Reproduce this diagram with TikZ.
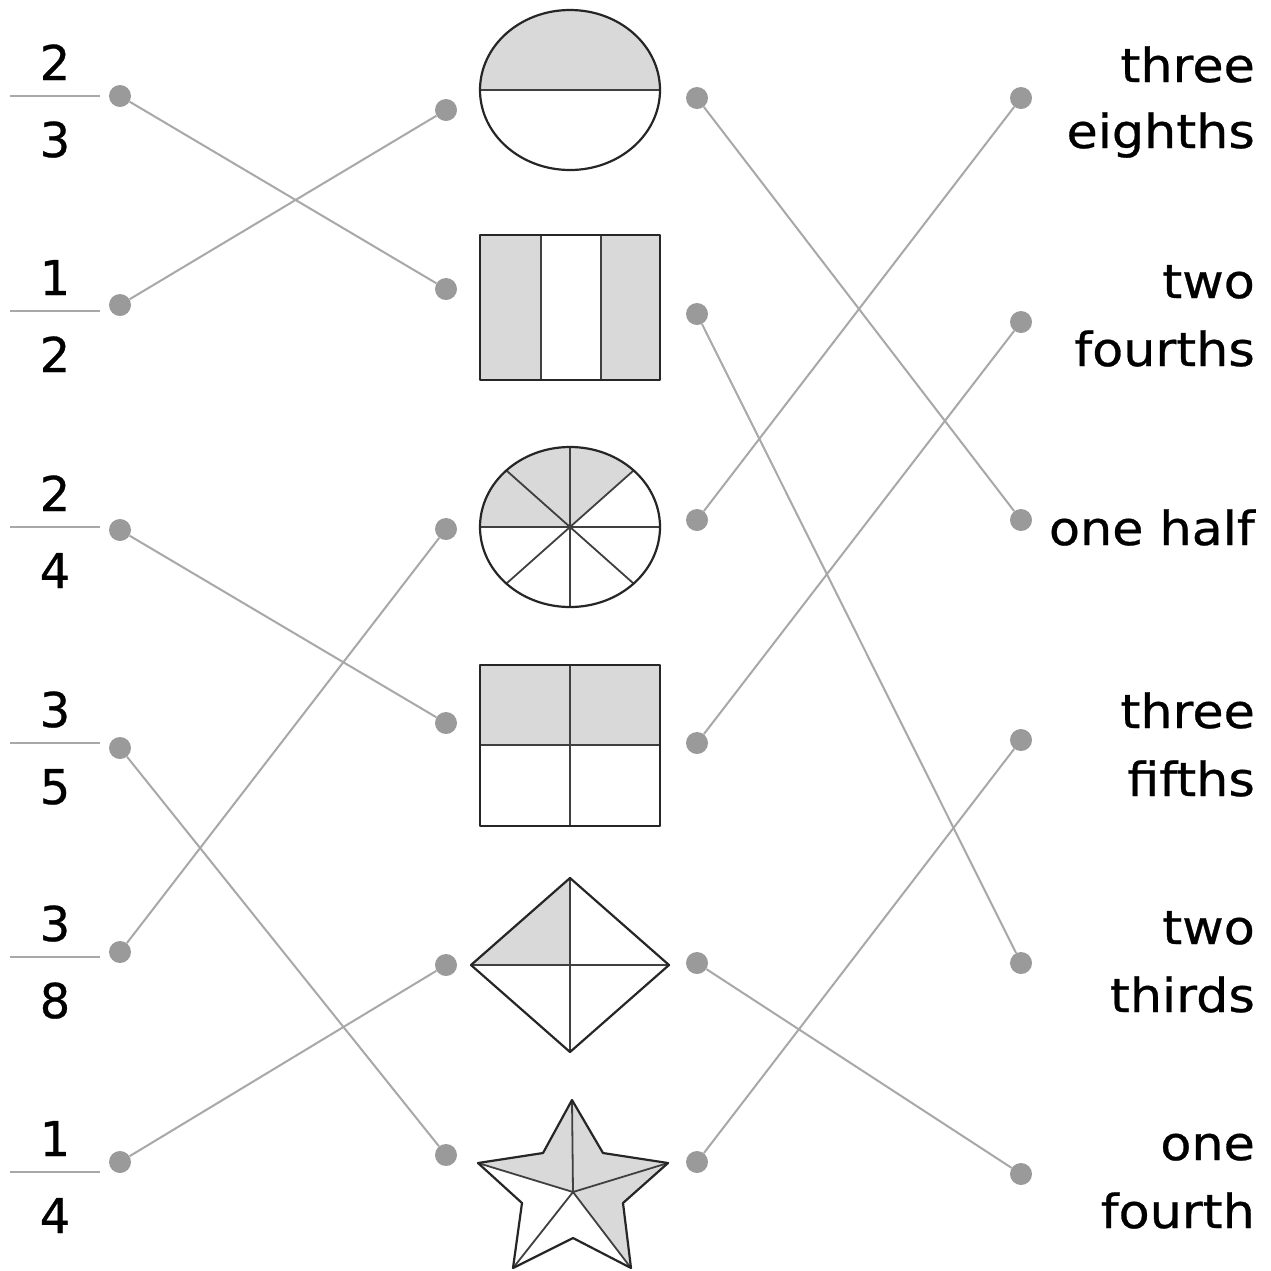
\documentclass[tikz,border=0pt]{standalone}
\usepackage{fontspec}
\setmainfont{DejaVu Sans}
\newfontfamily\wordfont{DejaVu Sans}[FakeStretch=1.08,FakeBold=0.6]
\newfontfamily\numfont{DejaVu Sans}[FakeBold=0.6]
\begin{document}
\begin{tikzpicture}[x=1pt,y=-1pt,
  dot/.style={circle,fill=dotgray,draw=none,inner sep=0pt,minimum size=22pt},
  link/.style={draw=linkgray,line width=2pt},
  bar/.style={draw=linkgray,line width=2pt},
  shp/.style={draw=black!85,line width=2.2pt,line join=round},
  sub/.style={draw=black!75,line width=1.8pt},
  shade/.style={fill=shadegray},
  num/.style={anchor=base,inner sep=0pt,font=\numfont\fontsize{48}{58}\selectfont},
  word/.style={anchor=base east,inner sep=0pt,font=\wordfont\fontsize{47}{56}\selectfont}]
\definecolor{dotgray}{HTML}{9A9A9A}
\definecolor{linkgray}{HTML}{A8A8A8}
\definecolor{shadegray}{HTML}{D9D9D9}
\useasboundingbox (0,0) rectangle (1271,1270);
\fill[white] (0,0) rectangle (1271,1270);

% ---- fractions ----
\foreach \n/\d/\b [count=\i] in {2/3/96,1/2/311,2/4/527,3/5/743,3/8/957,1/4/1172}{
  \draw[bar] (10,\b) -- (100,\b);
  \node[num] (n\i) at (55,\b-16) {\n};
  \node[num] (d\i) at (55,\b+61) {\d};
}

% ---- dots ----
\node[dot] (l1) at (120,96) {};
\node[dot] (l2) at (120,305) {};
\node[dot] (l3) at (120,530) {};
\node[dot] (l4) at (120,748) {};
\node[dot] (l5) at (120,952) {};
\node[dot] (l6) at (120,1162) {};

\node[dot] (a1) at (446,110) {};
\node[dot] (a2) at (446,289) {};
\node[dot] (a3) at (446,529) {};
\node[dot] (a4) at (446,723) {};
\node[dot] (a5) at (446,965) {};
\node[dot] (a6) at (446,1155) {};

\node[dot] (b1) at (697,98) {};
\node[dot] (b2) at (697,314) {};
\node[dot] (b3) at (697,520) {};
\node[dot] (b4) at (697,743) {};
\node[dot] (b5) at (697,963) {};
\node[dot] (b6) at (697,1162) {};

\node[dot] (r1) at (1021,98) {};
\node[dot] (r2) at (1021,322) {};
\node[dot] (r3) at (1021,520) {};
\node[dot] (r4) at (1021,740) {};
\node[dot] (r5) at (1021,963) {};
\node[dot] (r6) at (1021,1174) {};

% ---- words ----
\node[word] (w1a) at (1255,82) {three};
\node[word] (w1b) at (1255,148) {eighths};
\node[word] (w2a) at (1255,298) {two};
\node[word] (w2b) at (1255,366) {fourths};
\node[word] (w3) at (1255,545) {one half};
\node[word] (w4a) at (1255,728) {three};
\node[word] (w4b) at (1255,796) {fifths};
\node[word] (w5a) at (1255,944) {two};
\node[word] (w5b) at (1255,1012) {thirds};
\node[word] (w6a) at (1255,1160) {one};
\node[word] (w6b) at (1255,1228) {fourth};

% ---- connectors ----
\draw[link] (l1) -- (a2);
\draw[link] (l2) -- (a1);
\draw[link] (l3) -- (a4);
\draw[link] (l4) -- (a6);
\draw[link] (l5) -- (a3);
\draw[link] (l6) -- (a5);
\draw[link] (b1) -- (r3);
\draw[link] (b2) -- (r5);
\draw[link] (b3) -- (r1);
\draw[link] (b4) -- (r2);
\draw[link] (b5) -- (r6);
\draw[link] (b6) -- (r4);

% ---- shape 1: half circle ----
\begin{scope}
  \clip (470,0) rectangle (670,90);
  \fill[shade] (570,90) ellipse [x radius=90, y radius=80];
\end{scope}
\draw[sub] (480,90) -- (660,90);
\draw[shp] (570,90) ellipse [x radius=90, y radius=80];

% ---- shape 2: rectangle in thirds ----
\fill[shade] (480,235) rectangle (541,380);
\fill[shade] (601,235) rectangle (660,380);
\draw[sub] (541,235) -- (541,380);
\draw[sub] (601,235) -- (601,380);
\draw[shp] (480,235) rectangle (660,380);

% ---- shape 3: circle in eighths ----
\begin{scope}
  \clip (570,527) -- (697.3,413.9) -- (697.3,400) -- (470,400) -- (470,527) -- cycle;
  \fill[shade] (570,527) ellipse [x radius=90, y radius=80];
\end{scope}
\foreach \a in {0,45,...,315}{
  \draw[sub] (570,527) -- ({570+90*cos(\a)},{527-80*sin(\a)});
}
\draw[shp] (570,527) ellipse [x radius=90, y radius=80];

% ---- shape 4: square in fourths ----
\fill[shade] (480,665) rectangle (660,745);
\draw[sub] (480,745) -- (660,745);
\draw[sub] (570,665) -- (570,826);
\draw[shp] (480,665) rectangle (660,826);

% ---- shape 5: diamond ----
\fill[shade] (471,965) -- (570,878) -- (570,965) -- cycle;
\draw[sub] (471,965) -- (669,965);
\draw[sub] (570,878) -- (570,1052);
\draw[shp] (570,878) -- (669,965) -- (570,1052) -- (471,965) -- cycle;

% ---- shape 6: star ----
\fill[shade] (478,1163) -- (543,1153) -- (572,1100) -- (603,1153) -- (668,1163)
  -- (623,1203) -- (631,1268) -- (573,1192) -- cycle;
\foreach \p in {(572,1100),(478,1163),(668,1163),(513,1268),(631,1268)}{
  \draw[sub] (573,1192) -- \p;
}
\draw[shp] (572,1100) -- (603,1153) -- (668,1163) -- (623,1203) -- (631,1268)
  -- (573,1238) -- (513,1268) -- (522,1203) -- (478,1163) -- (543,1153) -- cycle;
\end{tikzpicture}
\end{document}
